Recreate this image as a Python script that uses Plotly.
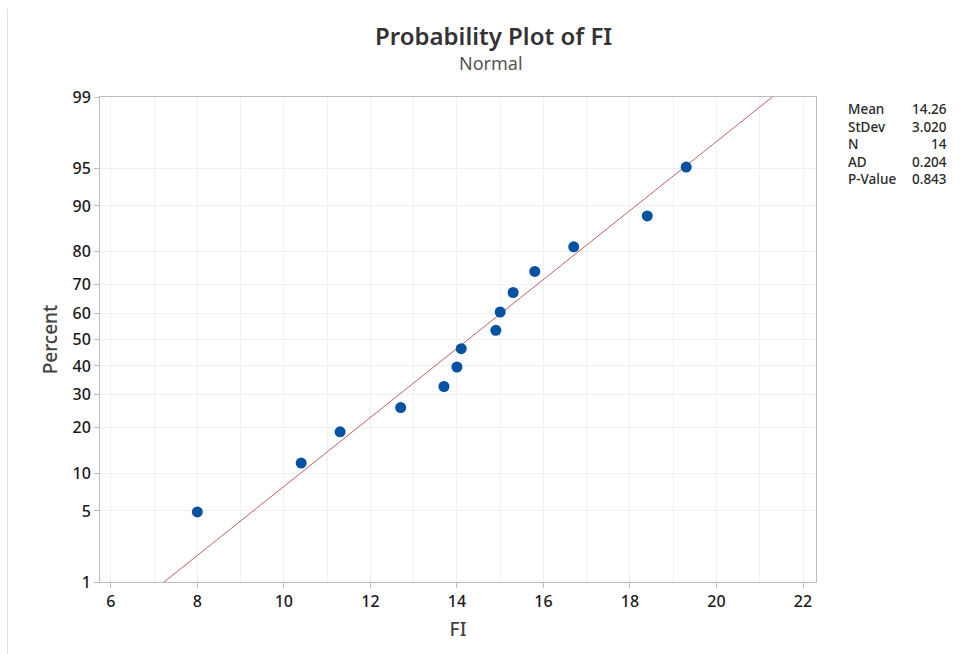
import plotly.graph_objects as go
from statistics import NormalDist

# ---- data ----
fi_values = [8.0, 10.4, 11.3, 12.7, 13.7, 14.0, 14.1, 14.9, 15.0, 15.3, 15.8, 16.7, 18.4, 19.3]
percent_values = [4.9, 11.8, 18.8, 25.7, 32.6, 39.6, 46.5, 53.5, 60.4, 67.4, 74.3, 81.3, 88.2, 95.1]

fit_x = [7.23, 21.29]
fit_percent = [1, 99]

y_tick_percent = [1, 5, 10, 20, 30, 40, 50, 60, 70, 80, 90, 95, 99]
x_tick_values = [6, 8, 10, 12, 14, 16, 18, 20, 22]

stat_names = ["Mean", "StDev", "N", "AD", "P-Value"]
stat_values = ["14.26", "3.020", "14", "0.204", "0.843"]

# ---- probability (normal) scale ----
nd = NormalDist()
def z(p):
    return nd.inv_cdf(p / 100.0)

FONT = "Noto Sans"
W, H = 967, 654
L, R, T, B = 100, 151, 97, 72
PW, PH = W - L - R, H - T - B

def px(xpix):
    return (xpix - L) / PW

def py(ypix):
    return (H - B - ypix) / PH

fig = go.Figure()

fig.add_trace(go.Scatter(
    x=fit_x, y=[z(p) for p in fit_percent], mode="lines",
    line=dict(color="rgb(196,96,92)", width=1), hoverinfo="skip", showlegend=False,
))
fig.add_trace(go.Scatter(
    x=fi_values, y=[z(p) for p in percent_values], mode="markers",
    marker=dict(color="#0052a5", size=11, line=dict(width=0)), showlegend=False,
))

ymin, ymax = z(1), z(99)

fig.update_layout(
    width=W, height=H,
    margin=dict(l=L, r=R, t=T, b=B, pad=0),
    paper_bgcolor="white", plot_bgcolor="white",
    font=dict(family=FONT, color="#222"),
    xaxis=dict(
        range=[5.75, 22.3], tickvals=x_tick_values, ticktext=[str(v) for v in x_tick_values],
        showgrid=True, gridcolor="#f0f0f0", gridwidth=1,
        minor=dict(dtick=1, tick0=0, showgrid=True, gridcolor="#f0f0f0", ticks=""),
        zeroline=False, showline=True, linecolor="#bcbcbc", linewidth=1, mirror=True,
        ticks="outside", ticklen=5, tickcolor="#bcbcbc",
        tickfont=dict(family=FONT, size=16, color="#1a1a1a", weight=500),
        title=dict(text="FI", font=dict(family=FONT, size=19, color="#444", weight=500), standoff=11),
    ),
    yaxis=dict(
        range=[ymin, ymax], tickvals=[z(p) for p in y_tick_percent],
        ticktext=[str(p) for p in y_tick_percent],
        showgrid=True, gridcolor="#f0f0f0", gridwidth=1,
        zeroline=False, showline=True, linecolor="#bcbcbc", linewidth=1, mirror=True,
        ticks="outside", ticklen=5, tickcolor="#bcbcbc",
        tickfont=dict(family=FONT, size=16, color="#1a1a1a", weight=500),
        title=dict(text="Percent", font=dict(family=FONT, size=19, color="#444", weight=500), standoff=9),
    ),
)

annotations = [
    dict(text="Probability Plot of FI", x=px(493), y=py(35.5), xref="paper", yref="paper",
         xanchor="center", yanchor="middle", showarrow=False,
         font=dict(family=FONT, size=24, color="#333", weight=600)),
    dict(text="Normal", x=px(491), y=py(62.5), xref="paper", yref="paper",
         xanchor="center", yanchor="middle", showarrow=False,
         font=dict(family=FONT, size=18, color="#555")),
    dict(text="<br>".join(stat_names), x=px(846), y=py(144), xref="paper", yref="paper",
         xanchor="left", yanchor="middle", align="left", showarrow=False,
         font=dict(family=FONT, size=13.5, color="#2a2a2a", weight=500)),
    dict(text="<br>".join(stat_values), x=px(949), y=py(144), xref="paper", yref="paper",
         xanchor="right", yanchor="middle", align="right", showarrow=False,
         font=dict(family=FONT, size=13.5, color="#2a2a2a", weight=500)),
]
fig.update_layout(annotations=annotations)

# faint frame line at the left of the graph window
fig.add_shape(type="line", xref="paper", yref="paper",
              x0=px(7.5), x1=px(7.5), y0=py(9), y1=py(654),
              line=dict(color="#e2e2e2", width=1))

fig.write_html("out.html")
